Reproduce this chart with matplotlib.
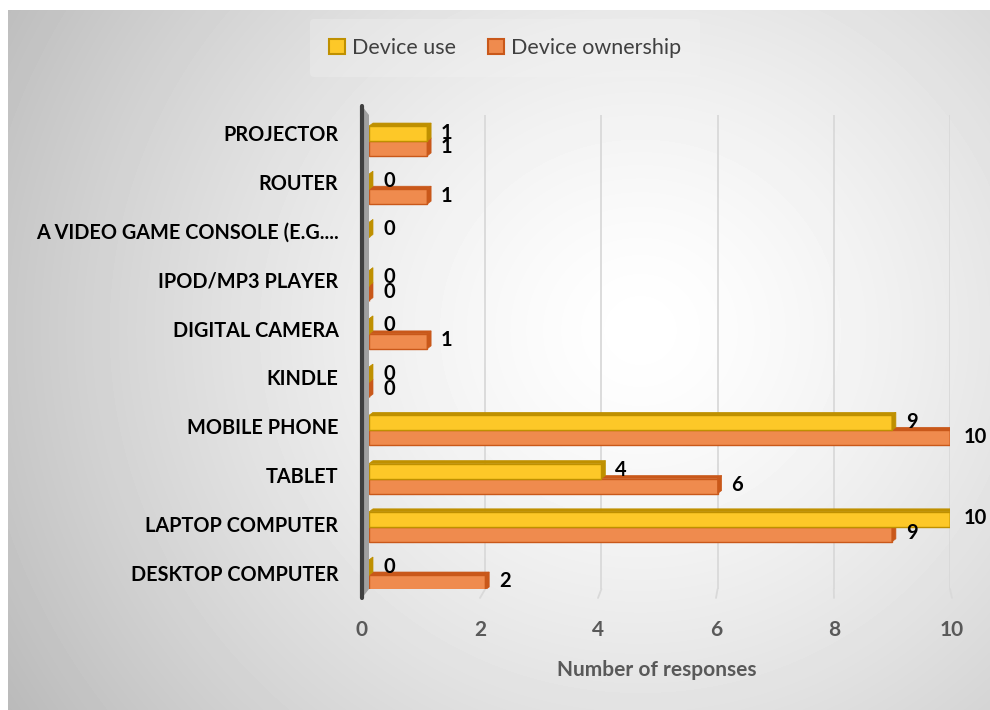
import numpy as np
import matplotlib
matplotlib.use("Agg")
import matplotlib.pyplot as plt
from matplotlib.patches import Polygon, Patch, Rectangle, ConnectionPatch

plt.rcParams['font.family'] = ['Lato', 'DejaVu Sans']

# survey data, listed top to bottom as shown
categories = ["PROJECTOR", "ROUTER", "A VIDEO GAME CONSOLE (E.G....", "IPOD/MP3 PLAYER",
              "DIGITAL CAMERA", "KINDLE", "MOBILE PHONE", "TABLET",
              "LAPTOP COMPUTER", "DESKTOP COMPUTER"]
device_use = [1, 0, 0, 0, 0, 0, 9, 4, 10, 0]
device_ownership = [1, 1, None, 0, 1, 0, 10, 6, 9, 2]
x_ticks = [0, 2, 4, 6, 8, 10]

YELLOW = "#FDC828"
YELLOW_DARK = "#BF9000"
ORANGE = "#EF8B4E"
ORANGE_DARK = "#C9581A"

W, H = 990, 710
fig = plt.figure(figsize=(W / 100, H / 100), dpi=100)
fig.patch.set_facecolor("white")

# radial grey-white backdrop of the chart area
bg = fig.add_axes([8 / W, 0, (W - 8) / W, (H - 10) / H])
yy, xx = np.mgrid[10:H, 8:W]
d = np.hypot(xx - 640, (yy - 330) * 1.05) / 745.0
shade = 1 - 0.27 * np.clip(d, 0, 1.2) ** 1.4
bg.imshow(shade, cmap="gray", vmin=0, vmax=1, aspect="auto", interpolation="bilinear")
bg.set_axis_off()

# back wall (bars) and front floor (labels) axes
ax = fig.add_axes([369 / W, 1 - 589 / H, 581 / W, 474 / H])
ax2 = fig.add_axes([362 / W, 1 - 598 / H, 590 / W, 492 / H])
for a in (ax, ax2):
    a.patch.set_alpha(0)
    a.set_xlim(0, 10)
ax.set_ylim(9.29, -0.539)
ax2.set_ylim(9.511, -0.552)
ax.set_zorder(3)
ax2.set_zorder(2)

pos = np.arange(len(categories))
h = 0.31
dx = 4 / (581 / 10)
dy = 3 / (474 / 9.829)


def bar3d(y, v, face, dark):
    top, bot = y - h / 2, y + h / 2
    ax.add_patch(Rectangle((0, top), v, h, facecolor=face, edgecolor=dark, lw=1.0, zorder=3))
    ax.add_patch(Polygon([(0, top), (dx, top - dy), (v + dx, top - dy), (v, top)],
                         closed=True, facecolor=dark, edgecolor=dark, lw=0.5, zorder=3))
    ax.add_patch(Polygon([(v, top), (v + dx, top - dy), (v + dx, bot - dy), (v, bot)],
                         closed=True, facecolor=dark, edgecolor=dark, lw=0.5, zorder=3))
    ax.annotate(str(v), (v, y), xytext=(14, 1), textcoords="offset pixels",
                ha="left", va="center", fontsize=14.5, fontweight="bold", color="black",
                zorder=5, annotation_clip=False)


for i in pos:
    if device_ownership[i] is not None:
        bar3d(i + h / 2, device_ownership[i], ORANGE, ORANGE_DARK)
for i in pos:
    if device_use[i] is not None:
        bar3d(i - h / 2, device_use[i], YELLOW, YELLOW_DARK)

# gridlines on the back wall, bent onto the floor
ax.set_xticks(x_ticks[1:])
ax.grid(axis="x", color="#d9d9d9", lw=1.3)
ax.set_axisbelow(True)
ax.tick_params(length=0, labelbottom=False, labelleft=False)
for s in ax.spines.values():
    s.set_visible(False)
for v in x_ticks[1:]:
    fig.add_artist(ConnectionPatch((v, ax.get_ylim()[0]), (v, ax2.get_ylim()[0]),
                                   "data", "data", axesA=ax, axesB=ax2,
                                   color="#d9d9d9", lw=1.3, zorder=1))

# grey side wall between the front axis line and the back wall
p1, p2 = ax.get_position(), ax2.get_position()
wall = Polygon([(p2.x0, p2.y1), (p1.x0, p1.y1), (p1.x0, p1.y0), (p2.x0, p2.y0)],
               closed=True, transform=fig.transFigure, facecolor="#a0a0a0",
               edgecolor="none", zorder=1)
fig.add_artist(wall)

ax2.set_xticks(x_ticks)
ax2.set_xticklabels([str(t) for t in x_ticks])
ax2.set_yticks(pos)
ax2.set_yticklabels(categories)
ax2.tick_params(axis="x", length=0, pad=16, labelsize=15, labelcolor="#595959")
ax2.tick_params(axis="y", length=0, pad=17, labelsize=14.3)
for lab in ax2.get_xticklabels() + ax2.get_yticklabels():
    lab.set_fontweight("bold")
for k in ("top", "right", "bottom"):
    ax2.spines[k].set_visible(False)
ax2.spines["left"].set_color("#404040")
ax2.spines["left"].set_linewidth(3)
ax2.spines["left"].set_capstyle("round")
ax2.set_xlabel("Number of responses", fontsize=15, fontweight="bold",
               color="#595959", labelpad=14)

handles = [Patch(facecolor=YELLOW, edgecolor=YELLOW_DARK, lw=1.5, label="Device use"),
           Patch(facecolor=ORANGE, edgecolor=ORANGE_DARK, lw=1.5, label="Device ownership")]
leg = fig.legend(handles=handles, loc="center", bbox_to_anchor=(505 / W, 1 - 48 / H),
                 ncol=2, fontsize=15.5, frameon=True, handlelength=0.75, handleheight=0.75,
                 handletextpad=0.3, columnspacing=1.5, borderpad=0.9)
leg.get_frame().set_facecolor("#f4f4f4")
leg.get_frame().set_edgecolor("none")
leg.get_frame().set_alpha(0.3)
for t in leg.get_texts():
    t.set_color("#404040")

fig.savefig("out.png", dpi=100)
